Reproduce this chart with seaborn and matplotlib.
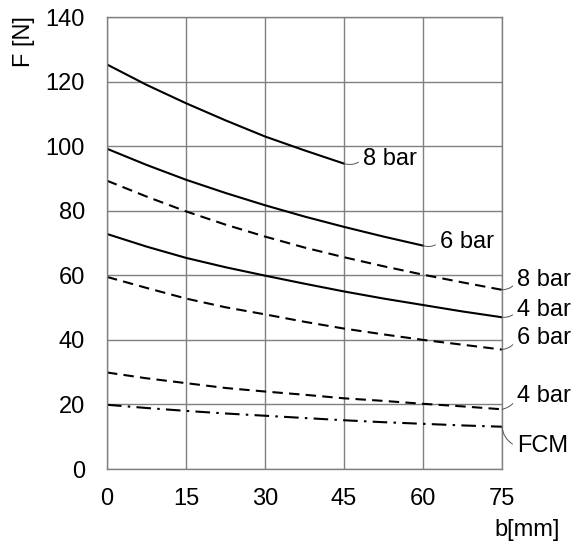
import matplotlib
matplotlib.use("Agg")
import matplotlib.pyplot as plt
import seaborn as sns
import pandas as pd

# Data (at 7.5 mm steps)
b_mm = [0, 7.5, 15, 22.5, 30, 37.5, 45, 52.5, 60, 67.5, 75]
solid_8bar = [125.3, 119.0, 113.3, 108.0, 103.0, 98.7, 94.6]
solid_6bar = [99.2, 94.2, 89.6, 85.5, 81.7, 78.2, 75.0, 72.0, 69.2]
solid_4bar = [72.8, 68.9, 65.4, 62.5, 59.9, 57.4, 55.0, 52.8, 50.8, 48.8, 47.0]
dashed_8bar = [89.3, 84.4, 79.8, 75.7, 72.0, 68.6, 65.6, 62.8, 60.2, 57.8, 55.5]
dashed_6bar = [59.5, 56.1, 52.8, 50.1, 47.9, 45.6, 43.5, 41.7, 40.0, 38.5, 37.0]
dashed_4bar = [29.9, 28.1, 26.6, 25.1, 24.0, 23.0, 21.9, 21.1, 20.2, 19.4, 18.5]
fcm = [19.9, 18.9, 18.0, 17.2, 16.5, 15.8, 15.1, 14.5, 14.0, 13.5, 13.1]

series = [
    ("8 bar", solid_8bar, "-", (19, 5)),
    ("6 bar", solid_6bar, "-", (17, 4)),
    ("4 bar", solid_4bar, "-", (15, 7)),
    ("8 bar", dashed_8bar, "--", (15, 9.5)),
    ("6 bar", dashed_6bar, "--", (15, 11.5)),
    ("4 bar", dashed_4bar, "--", (15, 13.5)),
    ("FCM", fcm, "-.", (15, -19.5)),
]

sns.set_style("white")
plt.rcParams["font.family"] = ["Liberation Sans", "DejaVu Sans"]

fig = plt.figure(figsize=(5.83, 5.49), dpi=100)
ax = fig.add_axes([0.1835, 0.1457, 0.861 - 0.1835, 0.969 - 0.1457])

for label, vals, ls, off in series:
    df = pd.DataFrame({"b": b_mm[:len(vals)], "F": vals})
    sns.lineplot(data=df, x="b", y="F", ax=ax, color="black", lw=1.5)
    ln = ax.lines[-1]
    if ls == "--":
        ln.set_dashes([5, 3])
    elif ls == "-.":
        ln.set_dashes([7, 3, 1.2, 3])
    ax.annotate(label, xy=(df["b"].iloc[-1], df["F"].iloc[-1]),
                xytext=off, textcoords="offset pixels",
                ha="left", va="center", fontsize=17, color="black",
                annotation_clip=False,
                arrowprops=dict(arrowstyle="-", lw=0.7, color="#555555",
                                connectionstyle="arc3,rad=-0.3",
                                shrinkA=1, shrinkB=0, relpos=(0, 0.5)))

ax.set_xlim(0, 75)
ax.set_ylim(0, 140)
ax.set_xticks([0, 15, 30, 45, 60, 75])
ax.set_yticks([0, 20, 40, 60, 80, 100, 120, 140])
ax.grid(True, color="#808080", lw=1.0)
for s in ax.spines.values():
    s.set_color("#808080")
    s.set_linewidth(1.0)
ax.tick_params(axis="both", length=0, labelsize=17, labelcolor="black")
ax.tick_params(axis="y", pad=16)
ax.tick_params(axis="x", pad=14)
ax.set_xlabel("")
ax.set_ylabel("")
fig.text(24 / 583, 1 - 42 / 549, "F [N]", rotation=90, ha="center", va="center",
         fontsize=17, color="black")
fig.text(527 / 583, 1 - 530 / 549, "b[mm]", ha="center", va="center",
         fontsize=17, color="black")

fig.savefig("out.png", dpi=100)
